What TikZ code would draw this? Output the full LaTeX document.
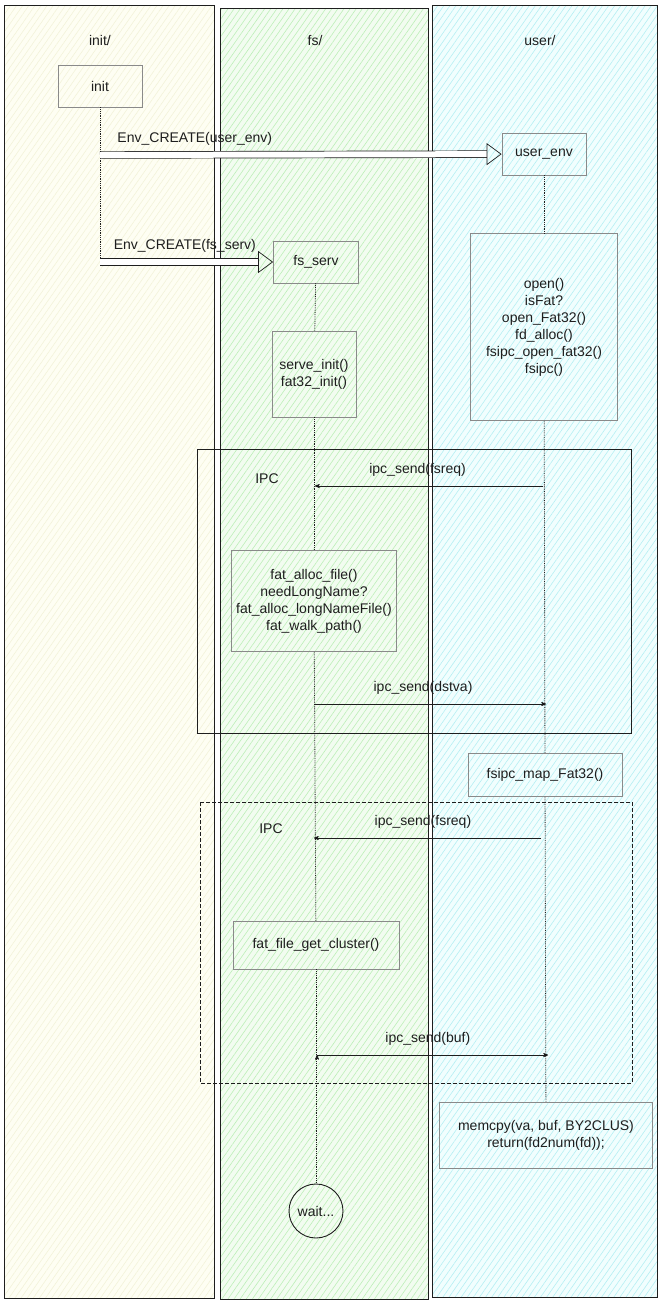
\documentclass[tikz,border=0pt]{standalone}
\usepackage{fontspec}
\setmainfont{Liberation Sans}
\usetikzlibrary{arrows,arrows.meta,patterns.meta,positioning}
\definecolor{inkc}{HTML}{1E1E1E}
\definecolor{boxc}{HTML}{8A8A8A}
\definecolor{initbg}{HTML}{FEFEF3}
\definecolor{inithatch}{HTML}{F3F3DA}
\definecolor{fsbg}{HTML}{F2FCF0}
\definecolor{fshatch}{HTML}{BDEFB8}
\definecolor{userbg}{HTML}{F1FEFE}
\definecolor{userhatch}{HTML}{B5EFF3}

\begin{document}
\begin{tikzpicture}[x=1pt,y=-1pt,>=stealth',
    font=\fontsize{14}{17}\selectfont,text=inkc,
    lane/.style={draw=inkc,line width=0.9pt},
    func/.style={draw=boxc,line width=0.8pt,align=center,inner sep=2pt},
    life/.style={densely dotted,draw=inkc,line width=0.8pt},
    msg/.style={->,draw=inkc,line width=0.7pt},
    spawn/.style={draw=inkc,line width=0.7pt,double,double distance=6pt,
      -{Triangle[open,length=15pt,width=22pt]}},
    frame/.style={draw=inkc,line width=0.8pt}]
  \useasboundingbox (0,0) rectangle (660,1302);
  % lanes
  \path[lane,preaction={fill=initbg},pattern={Lines[angle=55,distance=5pt,line width=0.6pt]},
    pattern color=inithatch] (4,5) rectangle (214,1298);
  \path[lane,preaction={fill=fsbg},pattern={Lines[angle=55,distance=5pt,line width=0.6pt]},
    pattern color=fshatch] (220,8) rectangle (428,1299);
  \path[lane,preaction={fill=userbg},pattern={Lines[angle=55,distance=5pt,line width=0.6pt]},
    pattern color=userhatch] (432,5) rectangle (657,1297);
  \node (tinit) at (100,40) {init/};
  \node (tfs)   at (315,40) {fs/};
  \node (tuser) at (540,40) {user/};

  % IPC frames
  \draw[frame] (197,449) rectangle (631,733);
  \draw[frame,dash pattern=on 4pt off 2pt,line width=0.6pt] (200,802) rectangle (632,1083);
  \node (ipc1) at (267,479) {IPC};
  \node (ipc2) at (271,829) {IPC};

  % processes
  \node[func,minimum width=84pt,minimum height=42pt] (init) at (100,86) {init};
  \node[func,minimum width=84pt,minimum height=42pt] (uenv) at (544,154) {user\_env};
  \node[func,minimum width=85pt,minimum height=42pt] (fss) at (316,262) {fs\_serv};
  \node[func,minimum width=84pt,minimum height=86pt] (sinit) at (314,374)
    {serve\_init()\\fat32\_init()};
  \node[func,minimum width=147pt,minimum height=187pt] (uopen) at (544,327)
    {open()\\isFat?\\open\_Fat32()\\fd\_alloc()\\fsipc\_open\_fat32()\\fsipc()};
  \node[func,minimum width=165pt,minimum height=101pt] (falloc) at (314,601)
    {fat\_alloc\_file()\\needLongName?\\fat\_alloc\_longNameFile()\\fat\_walk\_path()};
  \node[func,minimum width=154pt,minimum height=43pt] (fmap) at (545,775) {fsipc\_map\_Fat32()};
  \node[func,minimum width=166pt,minimum height=48pt] (fclus) at (316,945) {fat\_file\_get\_cluster()};
  \node[func,minimum width=213pt,minimum height=66pt] (umem) at (546,1135)
    {memcpy(va, buf, BY2CLUS)\\return(fd2num(fd));};
  \node[draw=inkc,circle,line width=0.9pt,minimum size=54pt,inner sep=0pt] (wait) at (316,1211) {wait...};

  % lifelines
  \coordinate (i1) at (100,155);
  \coordinate (i2) at (100,262);
  \path[life] (init) edge (i2)
    (fss) edge (sinit)
    (sinit) edge (falloc)
    (falloc) edge (fclus)
    (fclus) edge (wait)
    (uenv) edge (uopen)
    (uopen) edge (fmap)
    (fmap) edge (umem);

  % env creation
  \path (i1) edge[spawn] node[pos=0.236,above=6pt] {Env\_CREATE(user\_env)} (uenv)
    (i2) edge[spawn] node[pos=0.49,above=6pt] {Env\_CREATE(fs\_serv)} (fss);

  % messages
  \coordinate (u1) at (543,486);
  \coordinate (f1) at (315,486);
  \coordinate (f2) at (314,704);
  \coordinate (u2) at (546,704);
  \coordinate (u3) at (541,838);
  \coordinate (f3) at (314,838);
  \coordinate (f4) at (317,1055);
  \coordinate (u4) at (548,1055);
  \path[msg] (u1) edge node[pos=0.55,above=6pt] {ipc\_send(fsreq)} (f1)
    (f2) edge node[pos=0.47,above=6pt] {ipc\_send(dstva)} (u2)
    (u3) edge node[pos=0.52,above=6pt] {ipc\_send(fsreq)} (f3)
    (f4) edge node[pos=0.48,above=6pt] {ipc\_send(buf)} (u4);
\end{tikzpicture}
\end{document}
